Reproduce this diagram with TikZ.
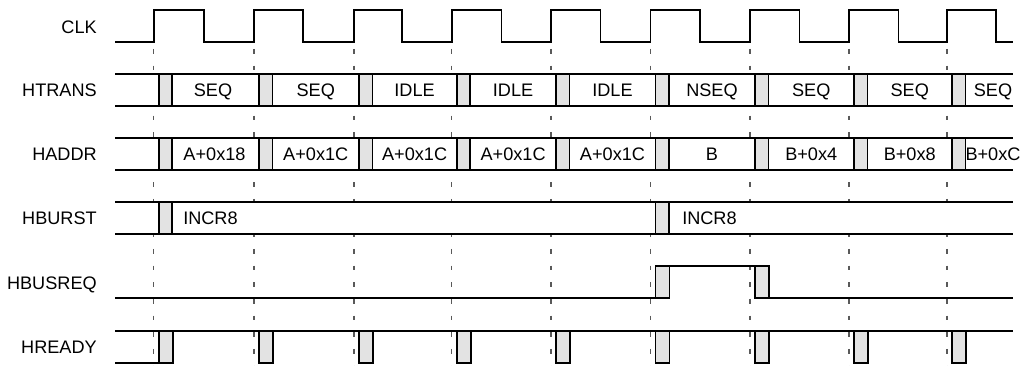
\documentclass[tikz,border=0pt]{standalone}
\usepackage{fontspec}
\setmainfont{Liberation Sans}
\begin{document}
\begin{tikzpicture}[x=0.75pt,y=-0.75pt,
  sig/.style={line width=1.2pt, line join=miter},
  xbox/.style={draw, line width=1.2pt, fill=gray!22},
  gridline/.style={black!65, line width=0.9pt, dash pattern=on 3.6pt off 8.9pt},
  lbl/.style={anchor=base east, inner sep=0pt, font=\fontsize{13.6}{15}\selectfont},
  val/.style={anchor=base, inner sep=0pt, font=\fontsize{13.6}{15}\selectfont},
  valw/.style={anchor=base west, inner sep=0pt, font=\fontsize{13.6}{15}\selectfont}]
\useasboundingbox (0,0) rectangle (1033,366);
\def\E{153.7,254,354,451.7,551,650.5,750,849,947}
% grid lines at rising edges
\foreach \e [count=\i] in \E {
  \coordinate (g\i) at (\e,49);
  \coordinate (h\i) at (\e,366);
  \draw[gridline] (g\i) -- (h\i);
}
% labels
\node[lbl] (lclk) at (97,33.5) {CLK};
\node[lbl] (ltrans) at (97,96.7) {HTRANS};
\node[lbl] (laddr) at (97,160.7) {HADDR};
\node[lbl] (lburst) at (97,224.7) {HBURST};
\node[lbl] (lbusreq) at (97,289.5) {HBUSREQ};
\node[lbl] (lready) at (97,354) {HREADY};
% clock
\draw[sig] (115,42)
  \foreach \r/\f in {153.7/204,254/303,354/402,451.7/501.5,551/600.5,650.5/700,750/799.5,849/898.5,947/996}
  { -- (\r,42) -- (\r,10) -- (\f,10) -- (\f,42) } -- (1013,42);
% bus rows
\foreach \t/\b in {74/106,138/170,202/234} {
  \fill[white] (115,\t) rectangle (1013,\b);
  \draw[sig] (115,\t) -- (1013,\t);
  \draw[sig] (115,\b) -- (1013,\b);
}
% HTRANS and HADDR transition boxes
\foreach \e in \E {
  \draw[xbox] ({\e+5},74) rectangle ({\e+18.5},106);
  \draw[xbox] ({\e+5},138) rectangle ({\e+18.5},170);
}
% HTRANS values
\foreach \x/\s [count=\i] in {213/SEQ,315.75/SEQ,414.6/IDLE,513.1/IDLE,612.5/IDLE,712/NSEQ,811.25/SEQ,909.75/SEQ,993/SEQ}
  \node[val] (t\i) at (\x,96.7) {\s};
% HADDR values
\foreach \x/\s [count=\i] in {214.5/A+0x18,315.75/A+0x1C,414.6/A+0x1C,513.1/A+0x1C,612.5/A+0x1C,712/B,811.25/B+0x4,909.75/B+0x8,993/B+0xC}
  \node[val] (a\i) at (\x,160.7) {\s};
% HBURST
\draw[xbox] (158.7,202) rectangle (172.2,234);
\draw[xbox] (655.5,202) rectangle (669,234);
\node[valw] (b1) at (183,224.7) {INCR8};
\node[valw] (b2) at (682,224.7) {INCR8};
% HBUSREQ
\draw[sig] (115,298) -- (655.5,298);
\draw[sig] (655.5,266) -- (769,266);
\draw[sig] (755,298) -- (1013,298);
\draw[xbox] (655.5,266) rectangle (669.5,298);
\draw[xbox] (755,266) rectangle (769,298);
% HREADY
\draw[sig] (115,331) -- (1013,331);
\draw[sig] (115,363) -- (158.7,363);
\foreach \e in \E {
  \draw[xbox] ({\e+5},331) rectangle ({\e+19},363);
}
\end{tikzpicture}
\end{document}
